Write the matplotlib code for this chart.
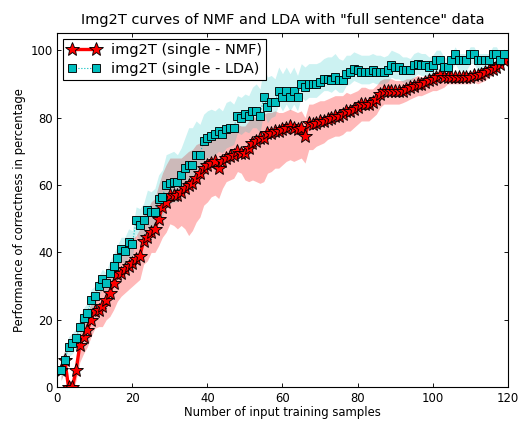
import matplotlib
matplotlib.use("Agg")
import matplotlib.pyplot as plt
import numpy as np

# ---------------- data ----------------
samples = list(range(1, 120))

nmf_mean = [5, 8, 0, 0, 5, 12.5, 15, 17, 20, 22.5,
            23, 24, 26, 28, 31, 33.5, 34, 35, 36, 37,
            38, 39, 43.5, 44.5, 46, 47, 50, 53.5, 55, 57,
            57, 57, 58, 59, 60, 60.5, 62, 63.5, 65, 66,
            66.5, 67, 65, 67, 68, 68.5, 69, 70, 69.5, 69.5,
            71, 72.5, 73, 74, 74, 75.5, 75.5, 76, 76, 76.5,
            77, 77.5, 77, 76.5, 77, 74.5, 78.5, 78, 78.5, 79,
            79, 79.5, 80, 80.5, 80.5, 81, 82, 82, 82.5, 83,
            84, 84, 84, 84.5, 85.5, 87, 88, 88, 88, 88,
            88, 88, 88.5, 89, 89.5, 90, 90, 90.5, 91, 91.5,
            92, 92.5, 92, 92, 92, 92, 92, 92, 92, 92,
            92.5, 92.5, 93, 93.5, 94, 94.5, 95, 96, 97]

# distance from the curve down to the lower edge of the shaded band
nmf_dev_low = [3, 3, 2, 2, 3, 5, 5, 5, 5, 5,
               5, 6, 6, 7, 8, 8, 7, 7, 7, 7,
               7, 7, 7, 7, 6, 7, 8, 9, 9, 8.5,
               9, 10, 10, 12, 15, 14, 13, 13, 11, 11,
               10, 10, 9, 8, 7, 7, 7, 6, 6, 8,
               10, 11, 12, 13.5, 13, 12, 11.5, 11, 11, 10.5,
               10, 10, 10, 9, 9, 8, 8, 7.5, 7, 7,
               6.5, 6, 6, 6, 6, 6, 6, 6, 5.5, 5,
               5, 5, 5, 4.5, 4.5, 4, 4, 4, 4, 4,
               4, 3.6, 3.6, 3.5, 3.5, 3.5, 3.5, 3.5, 3.5, 3.5,
               4, 4, 3, 2, 2, 2, 2, 2, 2, 2,
               2, 2.5, 2.5, 2.5, 2, 2, 1.5, 1.5, 1.5]

# distance from the curve up to the upper edge of the shaded band
nmf_dev_high = [3, 3, 2, 2, 3, 4, 4, 5, 5, 5,
                5, 6, 6, 6, 7, 7, 7, 7, 7, 7,
                7, 8, 8, 8, 9, 9, 10, 10, 11, 11,
                11, 11, 10, 10, 10, 10, 10, 9, 9, 9,
                9, 9, 9, 9, 8, 8, 8, 8, 8, 8,
                8, 8, 7, 7, 7, 6, 6, 6, 5.5, 5,
                5, 5, 5, 5, 5, 5.5, 5.5, 6, 6, 6,
                6, 6, 6, 6, 6, 5.5, 5.5, 5, 5, 5,
                5, 5, 4.5, 4, 4, 4, 3.5, 3.5, 3.5, 3,
                3, 3, 3, 2.5, 2.5, 2.5, 2, 2, 2, 1.5,
                1.5, 1.5, 1.5, 1.5, 1.5, 1.5, 1.5, 1.5, 1.5, 1.5,
                1.5, 1.5, 1.5, 1.5, 1.5, 1.5, 1.5, 1.5, 1.5]

lda_mean = [5, 8, 12, 13, 14.5, 18, 20.5, 22, 26, 27,
            30, 32, 31, 34, 36, 38.5, 41, 40.5, 43, 42.5,
            49.5, 48, 49.5, 52.5, 52, 52, 56, 56.5, 60, 60.5,
            61, 61, 63, 65, 66, 66, 69, 69, 73, 74,
            74.5, 75, 76, 75, 76.5, 77, 77, 80.5, 80, 81,
            80.5, 82, 82, 80.5, 86, 83, 84.5, 84.5, 88, 86,
            88, 86, 88, 86, 90, 89, 90, 90, 90, 90.5,
            91.5, 91.5, 91, 92, 91, 91, 93, 93.5, 94.5, 94,
            93.5, 93.5, 93.5, 94, 93.5, 93.5, 93.5, 94, 95.5, 95,
            95, 94, 94, 94, 95.5, 96, 95.5, 95.5, 95, 95.5,
            97, 97, 95, 95, 97, 99, 97, 97, 97, 99,
            99, 97, 97, 97, 97, 99, 99, 97, 99]

lda_dev_low = [3, 3, 3, 3, 3, 3, 3, 3, 3, 3,
               3, 3, 3, 3.5, 3.5, 3.5, 3.5, 4, 4, 4,
               4, 4.5, 5, 5, 5.5, 5.5, 6, 6, 6, 6,
               6, 6, 6, 6, 6, 6, 6, 6, 6, 6,
               6, 6, 6, 5.5, 5.5, 5.5, 5, 5, 5, 5,
               5, 5, 5, 5, 4.5, 4.5, 4.5, 4, 4, 4,
               4, 4, 4, 4, 4, 4, 4, 4, 4, 3.5,
               3.5, 3.5, 3.5, 3.5, 3.5, 3.5, 3.5, 3.5, 3.5, 3.5,
               3.5, 3.5, 3.5, 3.5, 3.5, 3.5, 3.5, 3.5, 3.5, 3.5,
               3.5, 3.5, 3.5, 3.5, 3.5, 3, 3, 3, 3, 3,
               3, 3, 3, 3, 3, 3, 3, 3, 3, 3,
               3, 3, 3, 3, 2.5, 2.5, 2.5, 2.5, 2]

lda_dev_high = [3, 3, 3, 3, 3, 3, 3, 3, 3, 3,
                3, 3, 3, 3.5, 3.5, 3.5, 3.5, 4, 4, 4,
                4, 5, 5, 6, 6, 7, 7, 8, 9, 9,
                9, 8, 8, 9, 11, 11, 10, 9, 8, 8,
                8, 7, 7, 7, 8, 8, 7, 6, 6, 6,
                6, 7, 8, 8, 9, 9, 8, 7, 7, 7,
                7, 7, 7, 6.5, 6, 6, 6, 6, 6, 6,
                6, 6.5, 7, 7, 6.5, 6, 5.5, 5, 5, 5,
                5, 5, 5, 5, 5, 5, 4.5, 4.5, 4.5, 4.5,
                4, 4, 4, 3.5, 3.5, 3.5, 3.5, 3.5, 3, 3,
                3, 3, 3, 2.5, 2, 2, 2, 2, 2, 2,
                2, 2, 2, 2, 2, 2, 2, 2, 1.5]

title = 'Img2T curves of NMF and LDA with "full sentence" data'
xlabel = "Number of input training samples"
ylabel = "Performance of correctness in percentage"
labels = ["img2T (single - NMF)", "img2T (single - LDA)"]
xticks = [0, 20, 40, 60, 80, 100, 120]
yticks = [0, 20, 40, 60, 80, 100]

# ---------------- plot ----------------
plt.rcParams['font.family'] = ['DejaVu Sans']
x = np.array(samples)
nm = np.array(nmf_mean)
lm = np.array(lda_mean)

fig = plt.figure(figsize=(529 / 80, 421 / 80), dpi=80)
ax = fig.add_axes([57.3 / 529, 1 - 387.3 / 421, (507.7 - 57.3) / 529, (387.3 - 33.3) / 421])

ax.fill_between(x, nm - np.array(nmf_dev_low), nm + np.array(nmf_dev_high),
                color='red', alpha=0.28, linewidth=0)
ax.fill_between(x, lm - np.array(lda_dev_low), lm + np.array(lda_dev_high),
                color='c', alpha=0.2, linewidth=0)
ax.plot(x, nm, color='red', linewidth=3, marker='*', markersize=13,
        markerfacecolor='red', markeredgecolor='black', markeredgewidth=0.8,
        label=labels[0])
ax.plot(x, lm, color='c', linewidth=1, linestyle=':', marker='s', markersize=7.5,
        markerfacecolor='c', markeredgecolor='black', markeredgewidth=0.8,
        label=labels[1])

ax.set_xlim(0, 120)
ax.set_ylim(0, 105)
ax.set_xticks(xticks)
ax.set_yticks(yticks)
ax.tick_params(direction='in', top=True, right=True, length=4, labelsize=10.5, pad=4)
for s in ax.spines.values():
    s.set_linewidth(1)
ax.set_title(title, fontsize=13, pad=8)
ax.set_xlabel(xlabel, fontsize=10.5, labelpad=1)
ax.set_ylabel(ylabel, fontsize=10.5, labelpad=4)
leg = ax.legend(loc='upper left', numpoints=2, fontsize=13, fancybox=False,
                framealpha=1, edgecolor='black', borderaxespad=0.4,
                handlelength=2.3, handletextpad=0.7, borderpad=0.3, labelspacing=0.3)
leg.get_frame().set_linewidth(1)

fig.savefig("out.png", dpi=80)
